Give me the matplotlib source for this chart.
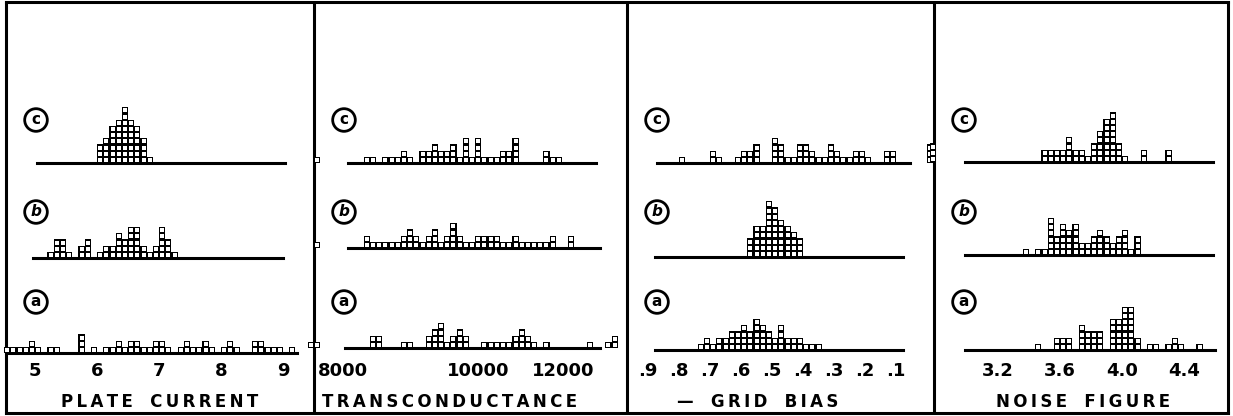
import matplotlib.pyplot as plt

W, H = 1233, 416
B = 6.2  # pixel size of one tube box

# each histogram: first bin index and tube counts per bin
# panel 1: plate current, bin 0.1 mA, bin 0 = 5.0 mA
pc_c_start, pc_c = 10, [3, 4, 6, 7, 9, 7, 6, 4, 1]
pc_b_start, pc_b = 2, [1, 3, 3, 1, 0, 2, 3, 0, 1, 2, 2, 4, 3, 5, 5, 2, 1, 2, 5, 3, 1]
pc_a_start, pc_a = -5, [1, 1, 1, 1, 2, 1, 0, 1, 1, 0, 0, 0, 3, 0, 1, 0, 1, 1, 2, 1,
                        2, 2, 1, 1, 2, 2, 1, 0, 1, 2, 1, 1, 2, 1, 0, 1, 2, 1, 0, 0,
                        2, 2, 1, 1, 1, 0, 1]
pc_ticks = [0, 10, 20, 30, 40]
pc_labels = ['5', '6', '7', '8', '9']

# panel 2: transconductance
gm_c_start, gm_c = -5, [1, 0, 0, 0, 0, 0, 0, 0, 1, 1, 0, 1, 1, 1, 2, 1, 0, 2, 2, 3, 2,
                        2, 3, 1, 4, 1, 4, 1, 1, 1, 2, 2, 4, 0, 0, 0, 0, 2, 1, 1]
gm_b_start, gm_b = -5, [1, 0, 0, 0, 0, 0, 0, 0, 2, 1, 1, 1, 1, 1, 2, 3, 2, 1, 2, 3, 1,
                        2, 4, 2, 1, 1, 2, 2, 2, 2, 1, 1, 2, 1, 1, 1, 1, 1, 2, 0, 0, 2]
gm_a_start, gm_a = -6, [1, 1, 0, 0, 0, 0, 0, 0, 0, 0, 2, 2, 0, 0, 0, 1, 1, 0, 0, 2,
                        3, 4, 1, 2, 3, 2, 0, 0, 1, 1, 1, 1, 1, 2, 3, 2, 1, 0, 1, 0,
                        0, 0, 0, 0, 0, 1, 0, 0, 1, 2]
gm_ticks = [-0.3, 21.5, 35.2]
gm_labels = ['8000', '10000', '12000']

# panel 3: minus grid bias, bin 0.02 V, bin 0 = 0.9 V
gb_c_start, gb_c = 5, [1, 0, 0, 0, 0, 2, 1, 0, 0, 1, 2, 2, 3, 0, 0, 4, 3, 1, 1, 3,
                       3, 2, 1, 1, 3, 2, 1, 1, 2, 2, 1, 0, 0, 2, 2, 0, 0, 0, 0, 0, 3]
gb_b_start, gb_b = 16, [3, 5, 5, 9, 8, 6, 5, 4, 3]
gb_a_start, gb_a = 8, [1, 2, 1, 2, 2, 3, 3, 4, 3, 5, 4, 3, 2, 4, 2, 2, 2, 1, 1, 1]
gb_ticks = [0, 5, 10, 15, 20, 25, 30, 35, 40]
gb_labels = ['.9', '.8', '.7', '.6', '.5', '.4', '.3', '.2', '.1']

# panel 4: noise figure, bin 0.04 db, bin 0 = 3.2 db
nf_c_start, nf_c = -11, [3, 0, 0, 0, 0, 0, 0, 0, 0, 0, 0, 0, 0, 0, 0, 0, 0, 0,
                         2, 2, 2, 2, 4, 2, 2, 1, 3, 5, 7, 8, 3, 1, 0, 0, 2, 0, 0, 0, 2]
nf_b_start, nf_b = 4, [1, 0, 1, 1, 6, 3, 5, 4, 5, 2, 2, 3, 4, 3, 2, 3, 4, 1, 3]
nf_a_start, nf_a = 6, [1, 0, 0, 2, 2, 2, 0, 4, 3, 3, 3, 0, 5, 5, 7, 7, 2, 0, 1, 1, 0,
                       1, 2, 1, 0, 0, 1]
nf_ticks = [0, 10, 20, 30]
nf_labels = ['3.2', '3.6', '4.0', '4.4']

titles = ['PLATE CURRENT', 'TRANSCONDUCTANCE', '\u2014 GRID BIAS', 'NOISE FIGURE']

# layout (pixels)
edges = [6, 314, 627, 934, 1228]
x0s = [35, 345, 648, 998]
base_y = [[163, 258, 353], [163, 248, 348], [163, 257, 350], [162, 255, 350]]
line_x = [[(37, 285), (33, 283), (6, 297)],
          [(348, 596), (348, 600), (345, 600)],
          [(657, 910), (655, 903), (655, 903)],
          [(965, 1213), (965, 1213), (965, 1215)]]
title_x = [160, 450, 758, 1083]

panels = [
    [(pc_c_start, pc_c), (pc_b_start, pc_b), (pc_a_start, pc_a), pc_ticks, pc_labels],
    [(gm_c_start, gm_c), (gm_b_start, gm_b), (gm_a_start, gm_a), gm_ticks, gm_labels],
    [(gb_c_start, gb_c), (gb_b_start, gb_b), (gb_a_start, gb_a), gb_ticks, gb_labels],
    [(nf_c_start, nf_c), (nf_b_start, nf_b), (nf_a_start, nf_a), nf_ticks, nf_labels],
]

fig = plt.figure(figsize=(W / 100, H / 100), dpi=100)
fig.patch.set_facecolor('white')

# frame in pixel coordinates
frame = fig.add_axes([0, 0, 1, 1])
frame.set_xlim(0, W)
frame.set_ylim(H, 0)
frame.axis('off')
for x in edges:
    frame.plot([x, x], [1, 414], color='black', lw=2.2, solid_capstyle='butt')
frame.plot([edges[0], edges[-1]], [413, 413], color='black', lw=2.2)
frame.plot([edges[0], edges[-1]], [1.5, 1.5], color='black', lw=2.2)

letters = ['c', 'b', 'a']
letter_y = [120, 212, 302]
for p in range(4):
    for k in range(3):
        frame.text(edges[p] + 30, letter_y[k], letters[k], ha='center', va='center',
                   fontsize=11, fontweight='bold',
                   fontstyle='italic' if k == 1 else 'normal',
                   bbox=dict(boxstyle='circle,pad=0.25', fc='white', ec='black', lw=2.0))
    frame.text(title_x[p], 402, '\u2009'.join(titles[p]).replace('\u2009 \u2009', '   '),
               ha='center', va='center', fontsize=12, fontweight='bold')

for p, (c, b, a, ticks, labels) in enumerate(panels):
    xl, xr = edges[p], edges[p + 1]
    ax = fig.add_axes([xl / W, 0, (xr - xl) / W, 1])
    ax.set_xlim((xl - x0s[p]) / B, (xr - x0s[p]) / B)
    ax.set_ylim(0, H / B)
    ax.axis('off')
    for k, (start, counts) in enumerate([c, b, a]):
        base = (H - base_y[p][k]) / B
        lx = line_x[p][k]
        ax.plot([(lx[0] - x0s[p]) / B, (lx[1] - x0s[p]) / B], [base, base],
                color='black', lw=2.2, clip_on=False)
        xs = [start + i for i in range(len(counts))]
        ax.bar(xs, counts, width=1, bottom=base, align='edge', color='black',
               linewidth=0, clip_on=False)
        hx, hy = [], []
        for x, n in zip(xs, counts):
            for j in range(n):
                hx.append(x + 0.5)
                hy.append(base + j + 0.5)
        ax.scatter(hx, hy, marker='s', s=5.5, color='white', linewidths=0,
                   zorder=3, clip_on=False)
    for t, lab in zip(ticks, labels):
        ax.text(t, (H - 371) / B, lab, ha='center', va='center',
                fontsize=13, fontweight='bold')

fig.savefig('out.png', dpi=100)
